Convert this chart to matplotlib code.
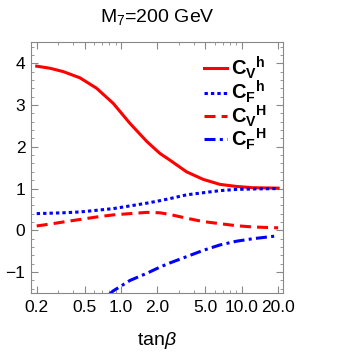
import matplotlib.pyplot as plt
from matplotlib.ticker import FixedLocator, NullFormatter
import numpy as np

# values
tanb = [0.2, 0.258, 0.332, 0.457, 0.628, 0.861, 1.185, 1.63, 2.1, 2.54, 3.49, 4.79, 6.59, 9.06, 12.4, 20.0]
cv_h = [3.93, 3.88, 3.80, 3.65, 3.40, 3.04, 2.56, 2.13, 1.84, 1.68, 1.40, 1.22, 1.10, 1.05, 1.02, 1.01]
cf_h = [0.40, 0.41, 0.42, 0.44, 0.48, 0.52, 0.585, 0.65, 0.71, 0.76, 0.85, 0.90, 0.95, 0.98, 0.99, 1.0]
cv_H = [0.105, 0.15, 0.20, 0.26, 0.32, 0.37, 0.40, 0.43, 0.42, 0.38, 0.29, 0.21, 0.16, 0.11, 0.08, 0.06]
tanb_F = [0.8, 0.861, 1.185, 1.63, 2.1, 2.54, 3.49, 4.79, 6.59, 9.06, 12.4, 20.0]
cf_H = [-1.53, -1.45, -1.20, -1.03, -0.88, -0.78, -0.63, -0.48, -0.35, -0.26, -0.20, -0.13]

xticks = [0.2, 0.5, 1.0, 2.0, 5.0, 10.0, 20.0]
xticklabels = ["0.2", "0.5", "1.0", "2.0", "5.0", "10.0", "20.0"]
yticks = [-1, 0, 1, 2, 3, 4]
yticklabels = ["\u22121", "0", "1", "2", "3", "4"]

plt.rcParams['font.family'] = 'Liberation Sans'
plt.rcParams['mathtext.fontset'] = 'custom'
plt.rcParams['mathtext.rm'] = 'Liberation Sans'
plt.rcParams['mathtext.it'] = 'Liberation Sans:italic'
plt.rcParams['mathtext.bf'] = 'Liberation Sans:bold'

fig = plt.figure(figsize=(3.54, 3.53), dpi=100)
ax = fig.add_axes([0.0876, 0.170, 0.712, 0.710])

ax.plot(tanb, cv_h, color='red', lw=2.2, label=r'$\mathbf{C_V}^{\mathbf{h}}$')
ax.plot(tanb, cf_h, color='blue', lw=2.2, dashes=(1.1, 1.0), label=r'$\mathbf{C_F}^{\mathbf{h}}$')
ax.plot(tanb, cv_H, color='red', lw=2.2, dashes=(3.6, 2.0), label=r'$\mathbf{C_V}^{\mathbf{H}}$')
ax.plot(tanb_F, cf_H, color='blue', lw=2.2, dashes=(3.6, 1.4, 1.0, 1.4), label=r'$\mathbf{C_F}^{\mathbf{H}}$')

ax.set_xscale('log')
ax.set_xlim(10 ** -0.746, 10 ** 1.342)
ax.set_ylim(-1.5, 4.5)

ax.xaxis.set_major_locator(FixedLocator(xticks))
ax.set_xticklabels(xticklabels)
minors = [m * d for d in (0.1, 1, 10) for m in range(2, 10)] + [0.1, 1.0, 10.0]
ax.xaxis.set_minor_locator(FixedLocator(minors))
ax.xaxis.set_minor_formatter(NullFormatter())
ax.set_yticks(yticks)
ax.set_yticklabels(yticklabels)
ax.yaxis.set_minor_locator(FixedLocator(np.arange(-1.4, 4.5, 0.2)))

for s in ax.spines.values():
    s.set_color('#888888')
    s.set_linewidth(0.8)
ax.tick_params(which='both', direction='in', top=True, right=True, colors='#888888',
               labelcolor='black', labelsize=12.5)
ax.tick_params(which='major', length=5)
ax.tick_params(which='minor', length=2.5)
ax.tick_params(axis='x', pad=5)
ax.tick_params(axis='y', pad=4)

ax.set_title(r'M$_7$=200 GeV', fontsize=14, pad=15)
ax.set_xlabel(r'tan$\it{\beta}$', fontsize=14, labelpad=11)

ax.legend(loc='upper right', bbox_to_anchor=(0.985, 1.0), frameon=False, fontsize=14.5,
          handlelength=1.15, handletextpad=0.2, labelspacing=-0.1, borderaxespad=0.2)

fig.savefig('out.png', dpi=100)
